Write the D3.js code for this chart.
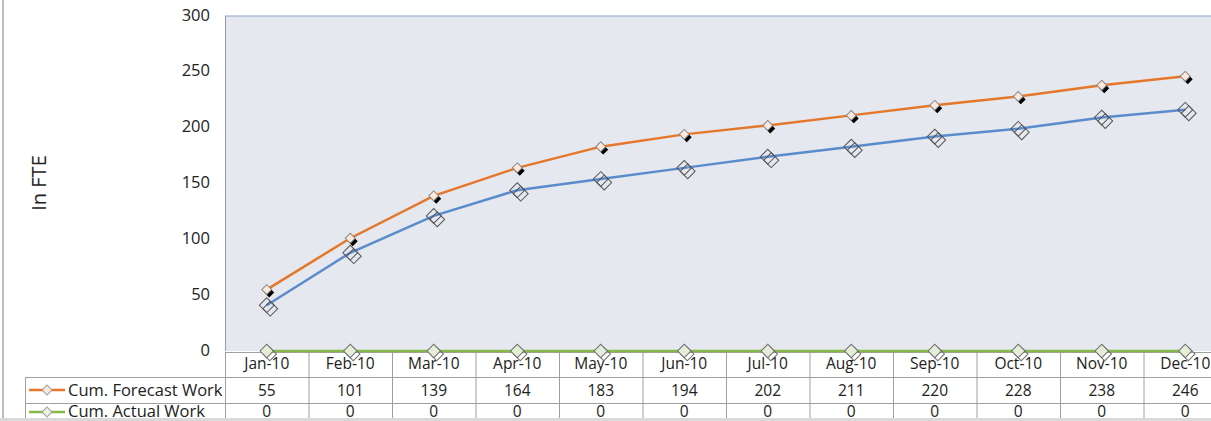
<!DOCTYPE html>
<html><head><meta charset="utf-8">
<script src="https://cdn.jsdelivr.net/npm/d3@7"></script>
<style>
html,body{margin:0;padding:0;background:#fff;overflow:hidden}
text{font-family:"Open Sans","DejaVu Sans",sans-serif;fill:#222}
</style></head><body>
<svg id="c" width="1211" height="421"></svg>
<script>
const months = ["Jan-10","Feb-10","Mar-10","Apr-10","May-10","Jun-10","Jul-10","Aug-10","Sep-10","Oct-10","Nov-10","Dec-10"];
const forecast = [55,101,139,164,183,194,202,211,220,228,238,246];
const actual = [0,0,0,0,0,0,0,0,0,0,0,0];
const planned = [41,88,121,144,154,164,174,183,192,199,209,216];
const yTicks = [0,50,100,150,200,250,300];
const seriesNames = ["Cum. Forecast Work","Cum. Actual Work"];
const axisTitle = "In  FTE";

const svg = d3.select("#c");
const L = 225, R = 1227, T = 16, B = 351;
const x = d3.scaleBand().domain(months).range([L, R]);
const y = d3.scaleLinear().domain([0, 300]).range([B, T]);

// outer frame
svg.append("line").attr("x1",3).attr("x2",3).attr("y1",0).attr("y2",421).attr("stroke","#a6a6a6").attr("stroke-width",1.5);
svg.append("rect").attr("x",0).attr("y",418).attr("width",1211).attr("height",3).attr("fill","#d9d9d9");

// plot area
svg.append("rect").attr("x",L).attr("y",T).attr("width",R-L).attr("height",B-T).attr("fill","#e5e8ee");
svg.append("line").attr("x1",L).attr("x2",R).attr("y1",T).attr("y2",T).attr("stroke","#8ea6c8").attr("stroke-width",1.2);
svg.append("line").attr("x1",L+0.5).attr("x2",L+0.5).attr("y1",T).attr("y2",B).attr("stroke","#9a9a9a");

// y axis labels
const ya = svg.append("g").attr("transform",`translate(${L-15},0)`)
  .call(d3.axisLeft(y).tickValues(yTicks).tickSize(0).tickPadding(0));
ya.select(".domain").remove();
ya.selectAll("text").style("font-size","16.5px").style("font-family","\"Open Sans\",sans-serif").attr("fill","#222").attr("dy","0.25em");

svg.append("text").attr("transform",`translate(46,${183}) rotate(-90)`).attr("text-anchor","middle")
  .style("font-size","20px").text(axisTitle);

// table
const tg = svg.append("g");
months.forEach((m,i)=>{
  tg.append("line").attr("x1",x(m)+0.5).attr("x2",x(m)+0.5).attr("y1",352).attr("y2",418).attr("stroke","#a0a0a0");
});
tg.append("line").attr("x1",25.5).attr("x2",25.5).attr("y1",377).attr("y2",418).attr("stroke","#a0a0a0");
tg.append("line").attr("x1",L).attr("x2",R).attr("y1",352.5).attr("y2",352.5).attr("stroke","#a0a0a0");
tg.append("line").attr("x1",25).attr("x2",R).attr("y1",377.5).attr("y2",377.5).attr("stroke","#a0a0a0");
tg.append("line").attr("x1",25).attr("x2",R).attr("y1",403.5).attr("y2",403.5).attr("stroke","#a0a0a0");

const xa = svg.append("g").attr("transform",`translate(0,${352})`)
  .call(d3.axisBottom(x).tickSize(0).tickPadding(6));
xa.select(".domain").remove();
xa.selectAll("text").style("font-size","15.5px").style("font-family","\"Open Sans\",sans-serif").attr("fill","#222");

const rowBase = [396, 417];
[forecast, actual].forEach((vals,r)=>{
  tg.selectAll(null).data(vals).enter().append("text")
    .attr("x",(d,i)=>x(months[i])+x.bandwidth()/2)
    .attr("y",rowBase[r])
    .attr("text-anchor","middle").style("font-size","15.5px").text(d=>d);
});

// legend keys in table
const colors = {orange:"#e5772a", green:"#86b94a", blue:"#5a8ccc"};
function diamond(g, cx, cy, s, fill, stroke){
  g.append("rect").attr("x",-s/2).attr("y",-s/2).attr("width",s).attr("height",s)
   .attr("transform",`translate(${cx},${cy}) rotate(45)`).attr("fill",fill).attr("stroke",stroke).attr("stroke-width",1);
}
const lg = svg.append("g");
lg.append("line").attr("x1",29).attr("x2",65).attr("y1",390).attr("y2",390).attr("stroke",colors.orange).attr("stroke-width",2.5);
diamond(lg,47,390,7,"#fde9d9","#a0a0a0");
lg.append("text").attr("x",68).attr("y",396).style("font-size","16.5px").text(seriesNames[0]);
lg.append("line").attr("x1",29).attr("x2",65).attr("y1",412).attr("y2",412).attr("stroke",colors.green).attr("stroke-width",2.5);
diamond(lg,47,412,7,"#eaf3dc","#a0a0a0");
lg.append("text").attr("x",68).attr("y",417).style("font-size","16.5px").text(seriesNames[1]);

// lines
const line = d3.line().x((d,i)=>x(months[i])+x.bandwidth()/2).y(d=>y(d));
const cx = i => x(months[i])+x.bandwidth()/2;

svg.append("path").datum(actual).attr("d",line).attr("fill","none").attr("stroke",colors.green).attr("stroke-width",2.5);
svg.append("path").datum(planned).attr("d",line).attr("fill","none").attr("stroke",colors.blue).attr("stroke-width",2.5);
svg.append("path").datum(forecast).attr("d",line).attr("fill","none").attr("stroke",colors.orange).attr("stroke-width",2.5);

// markers
const mg = svg.append("g");
actual.forEach((v,i)=>{
  diamond(mg,cx(i)+3,y(v)+3,9.5,"none","#707070");
  diamond(mg,cx(i),y(v),9.5,"#e4eed6","#707070");
});
planned.forEach((v,i)=>{
  diamond(mg,cx(i)+3.5,y(v)+3.5,10.5,"none","#555");
  diamond(mg,cx(i),y(v),10.5,"none","#555");
});
forecast.forEach((v,i)=>{
  diamond(mg,cx(i)+2.5,y(v)+3,6,"#000","#000");
  diamond(mg,cx(i),y(v),7,"#fde9d9","#888");
});
</script></body></html>
